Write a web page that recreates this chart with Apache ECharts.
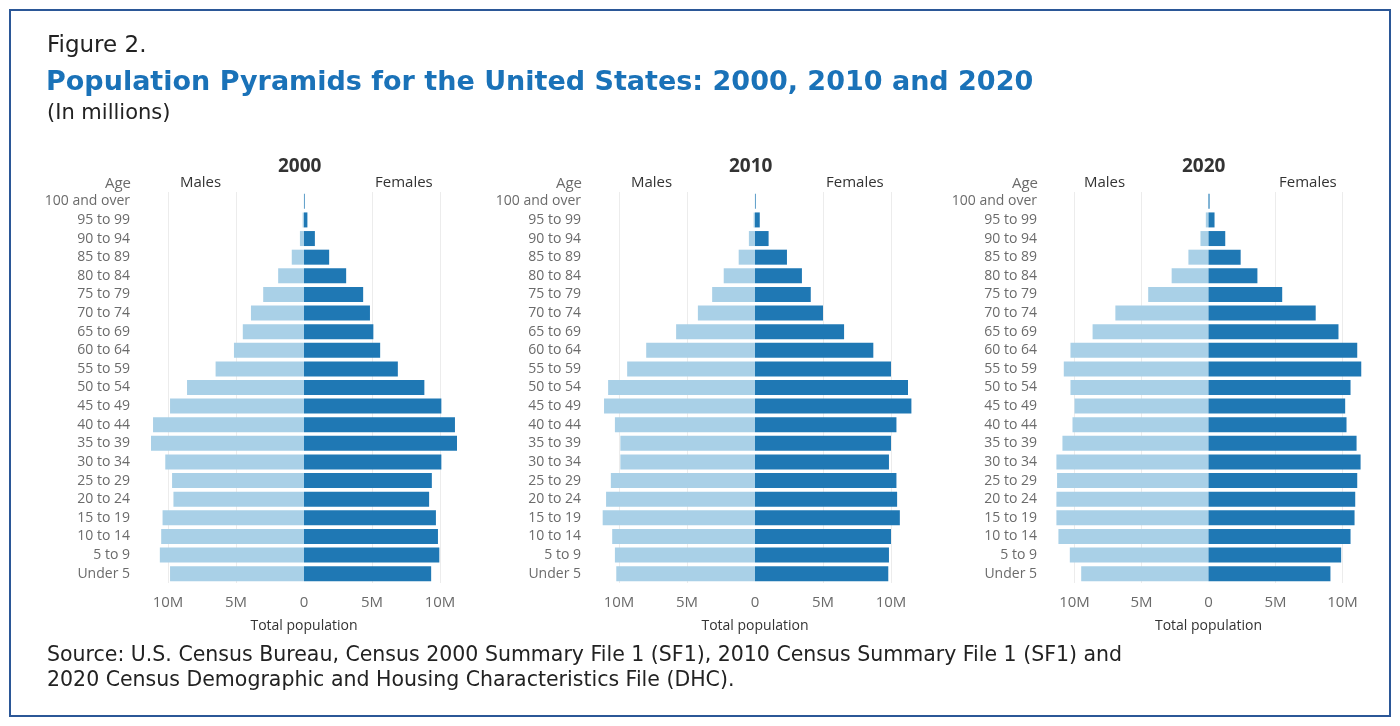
<!DOCTYPE html>
<html><head><meta charset="utf-8">
<script src="https://cdn.jsdelivr.net/npm/echarts@6/dist/echarts.min.js"></script>
<style>html,body{margin:0;padding:0;background:#fff}#c{width:1400px;height:726px}</style>
</head><body><div id="c"></div>
<script>
var ages = ['Under 5','5 to 9','10 to 14','15 to 19','20 to 24','25 to 29','30 to 34','35 to 39','40 to 44','45 to 49','50 to 54','55 to 59','60 to 64','65 to 69','70 to 74','75 to 79','80 to 84','85 to 89','90 to 94','95 to 99','100 and over']
var years = ['2000','2010','2020']
var males2000 = [9.85,10.6,10.5,10.4,9.6,9.7,10.2,11.25,11.1,9.85,8.6,6.5,5.15,4.5,3.9,3.0,1.9,0.9,0.3,0.1,0.01]
var females2000 = [9.35,9.95,9.85,9.7,9.2,9.4,10.1,11.25,11.1,10.1,8.85,6.9,5.6,5.1,4.85,4.35,3.1,1.85,0.8,0.25,0.05]
var males2010 = [10.2,10.3,10.5,11.2,10.95,10.6,9.9,9.9,10.3,11.1,10.8,9.4,8.0,5.8,4.2,3.15,2.3,1.2,0.45,0.1,0.01]
var females2010 = [9.8,9.85,10.0,10.65,10.45,10.4,9.85,10.0,10.4,11.5,11.25,10.0,8.7,6.55,5.0,4.1,3.45,2.35,1.0,0.35,0.05]
var males2020 = [9.5,10.35,11.2,11.35,11.35,11.3,11.35,10.9,10.15,10.0,10.3,10.8,10.3,8.65,6.95,4.5,2.75,1.5,0.6,0.2,0.02]
var females2020 = [9.1,9.9,10.6,10.9,10.95,11.1,11.35,11.05,10.3,10.2,10.6,11.4,11.1,9.7,8.0,5.5,3.65,2.4,1.25,0.45,0.08]
var males = [males2000, males2010, males2020]
var females = [females2000, females2010, females2020]

var F = '"Open Sans", "Noto Sans", sans-serif'
var H = '"DejaVu Sans", sans-serif'
var grey = '#6b6b6b'
var panels = [{l:134,r:474},{l:585,r:925},{l:1041,r:1376}]
var grids=[],xAxes=[],yAxes=[],series=[],texts=[]
panels.forEach(function(p,i){
	grids.push({left:p.l,width:p.r-p.l,top:192,height:391})
	xAxes.push({gridIndex:i,type:'value',min:-12.5,max:12.5,interval:2.5,
		axisLine:{show:false},axisTick:{show:false},
		axisLabel:{color:grey,fontSize:15,fontFamily:F,margin:12,
			formatter:function(v){ if(v%5!==0) return ''; return v===0?'0':Math.abs(v)+'M'}},
		splitLine:{show:true,lineStyle:{color:['transparent','#ececec','transparent','#ececec','transparent','transparent','transparent','#ececec','transparent','#ececec','transparent']}},
		name:'Total population',nameLocation:'middle',nameGap:36,
		nameTextStyle:{color:'#333',fontSize:14,fontFamily:F}})
	yAxes.push({gridIndex:i,type:'category',data:ages,
		axisLine:{show:false},axisTick:{show:false},
		axisLabel:{color:grey,fontSize:14,fontFamily:F,margin:4}})
	series.push({type:'bar',xAxisIndex:i,yAxisIndex:i,barWidth:15,barGap:'-100%',
		itemStyle:{color:'#a9d0e7'},data:males[i].map(function(v){return -v})})
	series.push({type:'bar',xAxisIndex:i,yAxisIndex:i,barWidth:15,barGap:'-100%',
		itemStyle:{color:'#1f78b4'},data:females[i]})
	var z = [304,755,1208][i]
	texts.push({type:'text',left:z-26,top:157,style:{text:years[i],fontSize:19,fontWeight:'bold',fill:'#333',fontFamily:F}})
	texts.push({type:'text',right:1400-p.l+3,top:176,style:{text:'Age',fontSize:15,fill:grey,fontFamily:F}})
	texts.push({type:'text',left:z-124,top:175,style:{text:'Males',fontSize:15,fill:'#333',fontFamily:F}})
	texts.push({type:'text',left:z+71,top:175,style:{text:'Females',fontSize:15,fill:'#333',fontFamily:F}})
})
texts.push({type:'rect',shape:{x:10,y:10,width:1380,height:706},style:{fill:'none',stroke:'#2b5797',lineWidth:2}})
texts.push({type:'text',left:47,top:35,style:{text:'Figure 2.',fontSize:23,fill:'#222',fontFamily:H}})
texts.push({type:'text',left:46,top:69,style:{text:'Population Pyramids for the United States: 2000, 2010 and 2020',fontSize:27,fontWeight:'bold',fill:'#1a72b8',fontFamily:H}})
texts.push({type:'text',left:47,top:103,style:{text:'(In millions)',fontSize:21,fill:'#222',fontFamily:H}})
texts.push({type:'text',left:47,top:643,style:{text:'Source: U.S. Census Bureau, Census 2000 Summary File 1 (SF1), 2010 Census Summary File 1 (SF1) and\n2020 Census Demographic and Housing Characteristics File (DHC).',fontSize:20.5,lineHeight:25,fill:'#222',fontFamily:H}})

var chart = echarts.init(document.getElementById('c'))
chart.setOption({animation:false,grid:grids,xAxis:xAxes,yAxis:yAxes,series:series,graphic:texts})
</script></body></html>
